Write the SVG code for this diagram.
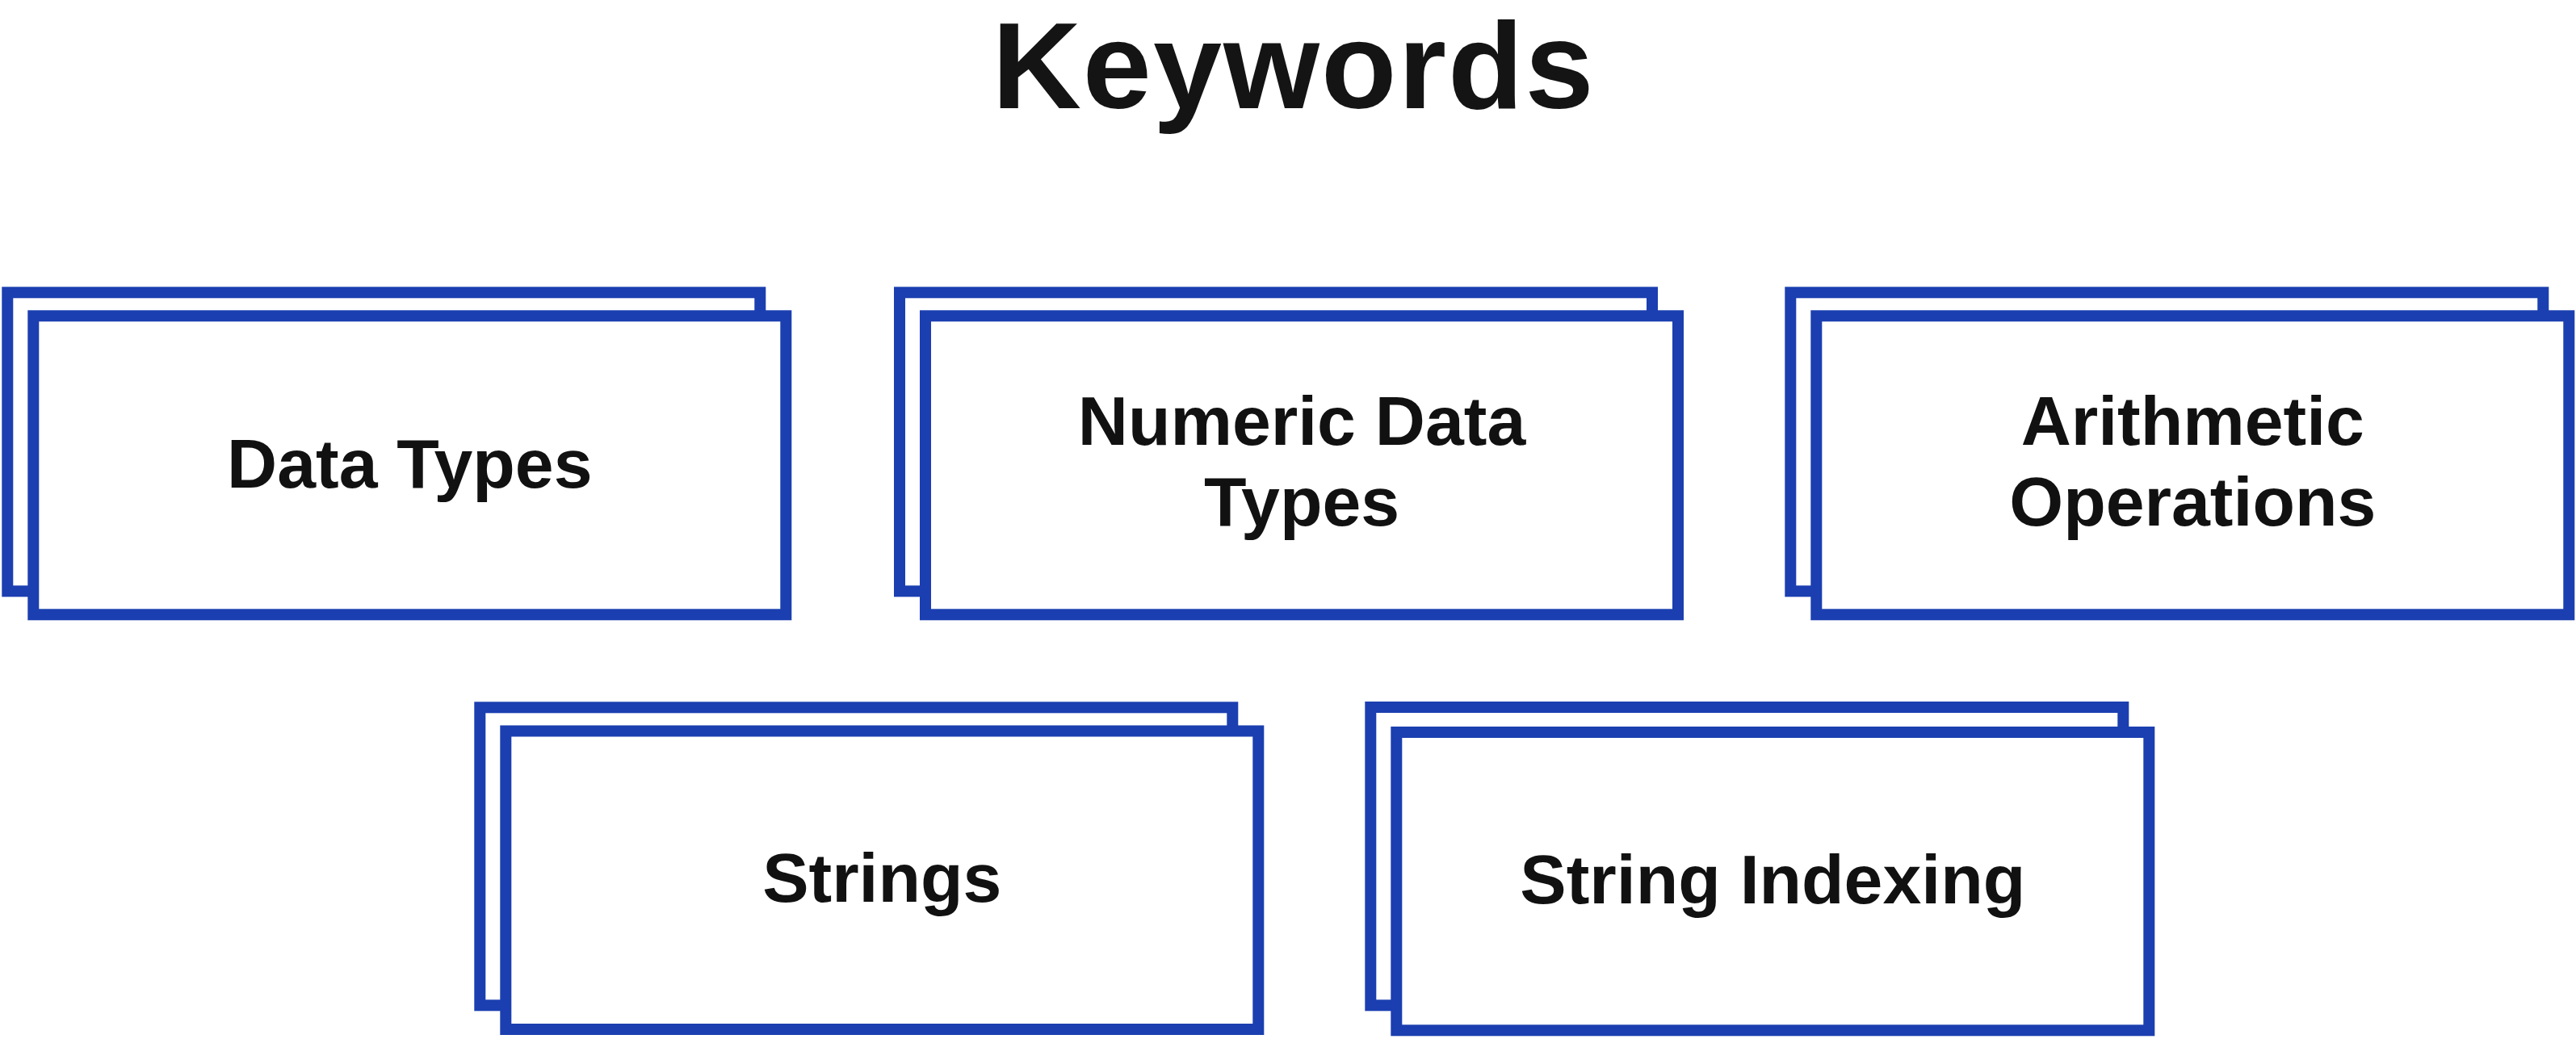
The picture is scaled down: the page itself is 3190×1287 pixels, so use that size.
<svg xmlns="http://www.w3.org/2000/svg" width="3190" height="1287" viewBox="0 0 3190 1287">
  <style>
    .back { fill: #ffffff; stroke: #1B3FB0; stroke-width: 14; }
    .front { fill: #ffffff; stroke: #1B3FB0; stroke-width: 14; }
    .label { font-family: "Liberation Sans", Arial, sans-serif; font-weight: 700; font-size: 86px; fill: #111111; text-anchor: middle; }
    .title { font-family: "Liberation Sans", Arial, sans-serif; font-weight: 700; font-size: 153px; fill: #141414; text-anchor: middle; letter-spacing: 2px; }
  </style>
  <rect x="0" y="0" width="3190" height="1287" fill="#ffffff"/>
  <text class="title" x="1602" y="134">Keywords</text>
  <g id="connectors"></g>
  <g id="node-data-types">
    <rect class="back" x="9.3" y="362.3" width="932" height="370"/>
    <rect class="front" x="41.3" y="391.3" width="932" height="370"/>
    <text class="label" x="507.3" y="604">Data Types</text>
  </g>
  <g id="node-numeric-data-types">
    <rect class="back" x="1114" y="362.3" width="932" height="370"/>
    <rect class="front" x="1146" y="391.3" width="932" height="370"/>
    <text class="label" x="1612" y="551">Numeric Data</text>
    <text class="label" x="1612" y="651">Types</text>
  </g>
  <g id="node-arithmetic-operations">
    <rect class="back" x="2217.3" y="362.3" width="932" height="370"/>
    <rect class="front" x="2249.3" y="391.3" width="932" height="370"/>
    <text class="label" x="2715.3" y="551">Arithmetic</text>
    <text class="label" x="2715.3" y="651">Operations</text>
  </g>
  <g id="node-strings">
    <rect class="back" x="594.3" y="876.3" width="932" height="369"/>
    <rect class="front" x="626.3" y="905.5" width="932" height="369.5"/>
    <text class="label" x="1092.3" y="1117">Strings</text>
  </g>
  <g id="node-string-indexing">
    <rect class="back" x="1697.3" y="876" width="932" height="369.3"/>
    <rect class="front" x="1729.3" y="907" width="932" height="369.3"/>
    <text class="label" x="2195.3" y="1119">String Indexing</text>
  </g>
</svg>
